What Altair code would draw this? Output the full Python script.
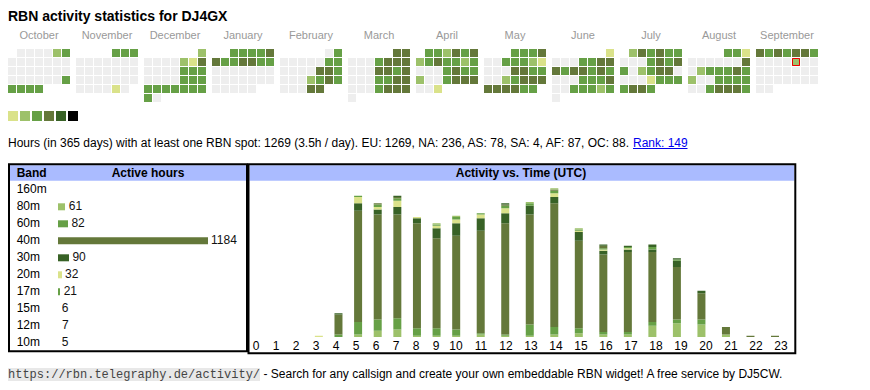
import datetime as dt
import altair as alt
import pandas as pd

# ---------------- data ----------------
TITLE = "RBN activity statistics for DJ4GX"
MONTHS = ["October", "November", "December", "January", "February", "March",
          "April", "May", "June", "July", "August", "September"]
MONTH_FIRST = ["2024-10-01", "2024-11-01", "2024-12-01", "2025-01-01", "2025-02-01", "2025-03-01",
               "2025-04-01", "2025-05-01", "2025-06-01", "2025-07-01", "2025-08-01", "2025-09-01"]
# daily activity level (0 = none, 1..6 = legend levels), written week by week
DAY_LEVELS = [
    "000023 0000000 0000000 0000003 3333",
    "333 0000000 0000000 0000000 000010",
    "2 0000214 0000333 0000333 3333333 30",
    "33334 4334433 0000000 0000000 00000",
    "03 0000033 0000443 0002343 00044",
    "44 0003444 0004434 0003344 0003444 0",
    "332434 2343323 0003433 2003444 001",
    "3334 0033321 0004433 0023444 444433",
    "1 0003344 4344343 0003334 0033323 0",
    "243433 0003434 3023440 0001333 3443",
    "331 0000004 0233343 2003333 0034443",
    "4343443 0000200 0000000 0000000 00",
]
TODAY = "2025-09-12"
LEGEND_LEVELS = [1, 2, 3, 4, 5, 6]
LEVEL_COLORS = ["#eeeeee", "#dae28a", "#9dc16a", "#66a046", "#64783a", "#386226", "#000000"]

SUMMARY = ("Hours (in 365 days) with at least one RBN spot: 1269 (3.5h / day). "
           "EU: 1269, NA: 236, AS: 78, SA: 4, AF: 87, OC: 88.")
RANK = "Rank: 149"

BANDS = ["160m", "80m", "60m", "40m", "30m", "20m", "17m", "15m", "12m", "10m"]
BAND_HOURS = [0, 61, 82, 1184, 90, 32, 21, 6, 7, 5]
BAND_COLORS = ["#dae28a", "#9dc16a", "#66a046", "#64783a", "#386226",
               "#dae28a", "#66a046", "#64783a", "#386226", "#9dc16a"]

HOURS = [0, 1, 2, 3, 4, 5, 6, 7, 8, 9, 10, 11, 12, 13, 14, 15, 16, 17, 18, 19, 20, 21, 22, 23]
ACT_160 = [0, 0, 0, 0, 0, 0, 0, 0, 0, 0, 0, 0, 0, 0, 0, 0, 0, 0, 0, 0, 0, 0, 0, 0]
ACT_80 = [0, 0, 0, 0, 0, 2, 5, 6, 1, 1, 1, 2, 1, 1, 2, 3, 2, 2, 9, 11, 10, 2, 0, 0]
ACT_60 = [0, 0, 0, 0, 2, 10, 9, 9, 6, 6, 5, 1, 1, 9, 6, 4, 2, 2, 3, 3, 4, 0, 0, 0]
ACT_40 = [0, 0, 0, 0, 16, 89, 84, 83, 84, 72, 75, 82, 89, 88, 99, 70, 62, 64, 56, 42, 21, 6, 1, 1]
ACT_30 = [0, 0, 0, 0, 1, 6, 4, 6, 4, 8, 10, 10, 8, 7, 5, 7, 3, 2, 2, 5, 2, 0, 0, 0]
ACT_20 = [0, 0, 0, 1, 0, 5, 2, 5, 1, 2, 3, 3, 4, 0, 3, 1, 1, 1, 0, 0, 0, 0, 0, 0]
ACT_17 = [0, 0, 0, 0, 0, 1, 2, 2, 0, 1, 2, 1, 2, 2, 2, 1, 1, 1, 2, 1, 0, 0, 0, 0]
ACT_15 = [0, 0, 0, 0, 0, 0, 1, 1, 0, 0, 0, 0, 1, 0, 1, 0, 2, 0, 0, 0, 0, 0, 0, 0]
ACT_12 = [0, 0, 0, 0, 0, 0, 0, 1, 0, 0, 0, 0, 1, 0, 0, 0, 1, 1, 2, 1, 0, 0, 0, 0]
ACT_10 = [0, 0, 0, 0, 0, 0, 0, 0, 0, 1, 1, 0, 0, 1, 1, 1, 0, 0, 0, 0, 0, 0, 0, 0]
ACTIVITY = [ACT_160, ACT_80, ACT_60, ACT_40, ACT_30, ACT_20, ACT_17, ACT_15, ACT_12, ACT_10]

TABLE_HEAD = ["Band", "Active hours"]
CHART_HEAD = "Activity vs. Time (UTC)"
FOOT_URL = "https://rbn.telegraphy.de/activity/"
FOOT_TEXT = "- Search for any callsign and create your own embeddable RBN widget! A free service by DJ5CW."

# ---------------- build tables ----------------
rows = []
for m, (first, s) in enumerate(zip(MONTH_FIRST, DAY_LEVELS)):
    s = s.replace(" ", "")
    d0 = dt.date.fromisoformat(first)
    for i, ch in enumerate(s):
        d = d0 + dt.timedelta(days=i)
        rows.append({"m": m, "col": d.weekday(), "row": (d0.weekday() + i) // 7,
                     "level": int(ch), "date": d.isoformat()})
cal_df = pd.DataFrame(rows)
months_df = pd.DataFrame({"m": list(range(len(MONTHS))), "name": MONTHS})
legend_df = pd.DataFrame({"level": LEGEND_LEVELS})
band_df = pd.DataFrame({"band": BANDS, "hours": BAND_HOURS})
act_rows = []
for b, (band, vals) in enumerate(zip(BANDS, ACTIVITY)):
    for h, v in zip(HOURS, vals):
        act_rows.append({"band": band, "bidx": b, "hour": h, "hours": v})
act_df = pd.DataFrame(act_rows)
hours_df = pd.DataFrame({"hour": HOURS})

# ---------------- layout ----------------
W, H = 854, 374
FONT = "Liberation Sans"
MONO = "Liberation Mono"
IX = alt.Scale(domain=[0, W], range=[0, W], nice=False, zero=False)
IY = alt.Scale(domain=[0, H], range=[0, H], nice=False, zero=False)
one = pd.DataFrame({"k": [0]})


def text(t, x, y, size=11, bold=False, color="#000000", align="left", font=FONT):
    return alt.Chart(pd.DataFrame({"t": [t]})).mark_text(
        align=align, baseline="alphabetic", fontSize=size,
        fontWeight="bold" if bold else "normal", color=color, font=font
    ).encode(x=alt.value(x), y=alt.value(y), text="t:N")


def box(x, x2, y, y2, **kw):
    return alt.Chart(one).mark_rect(**kw).encode(
        x=alt.value(x), x2=alt.value(x2), y=alt.value(y), y2=alt.value(y2))


level_color = alt.Color("level:O", scale=alt.Scale(domain=[0, 1, 2, 3, 4, 5, 6], range=LEVEL_COLORS),
                        legend=None)

title = text(TITLE, 0, 13, size=14, bold=True)

month_labels = alt.Chart(months_df).transform_calculate(
    mx="68 * datum.m + 31"
).mark_text(align="center", baseline="alphabetic", fontSize=11, color="#999999", font=FONT).encode(
    x=alt.X("mx:Q", scale=IX, axis=None), y=alt.value(30.5), text="name:N")

cells = alt.Chart(cal_df).transform_calculate(
    cx="68 * datum.m + 9 * datum.col", cx2="68 * datum.m + 9 * datum.col + 8",
    cy="41 + 9 * datum.row", cy2="41 + 9 * datum.row + 8"
).mark_rect().encode(
    x=alt.X("cx:Q", scale=IX, axis=None), x2="cx2:Q",
    y=alt.Y("cy:Q", scale=IY, axis=None), y2="cy2:Q",
    color=level_color)

today = alt.Chart(cal_df).transform_filter(
    alt.datum.date == TODAY
).transform_calculate(
    cx="68 * datum.m + 9 * datum.col + 0.5", cx2="68 * datum.m + 9 * datum.col + 7.5",
    cy="41.5 + 9 * datum.row", cy2="41 + 9 * datum.row + 7.5"
).mark_rect(stroke="#ee0000", strokeWidth=1, fillOpacity=0).encode(
    x=alt.X("cx:Q", scale=IX, axis=None), x2="cx2:Q",
    y=alt.Y("cy:Q", scale=IY, axis=None), y2="cy2:Q")

legend = alt.Chart(legend_df).transform_calculate(
    lx="12 * (datum.level - 1)", lx2="12 * (datum.level - 1) + 10"
).mark_rect().encode(
    x=alt.X("lx:Q", scale=IX, axis=None), x2="lx2:Q",
    y=alt.value(103), y2=alt.value(113), color=level_color)

summary = text(SUMMARY, 0, 138.5, size=12)
rank = text(RANK, 625, 138.5, size=12, color="#0000ee")
rank_line = alt.Chart(one).mark_rule(color="#0000ee", strokeWidth=1).encode(
    x=alt.value(625), x2=alt.value(679.5), y=alt.value(140.5))

# table panel
left_head = box(2, 238, 157.3, 172.7, color="#aabbff")
left_border = box(1, 239, 156.3, 343.3, fillOpacity=0, stroke="#000000", strokeWidth=2)
right_head = box(241.5, 786.3, 157.3, 172.7, color="#aabbff")
right_border = box(240.5, 787.3, 156.3, 345.3, fillOpacity=0, stroke="#000000", strokeWidth=2)
head_band = text(TABLE_HEAD[0], 8.7, 168.7, size=12, bold=True)
head_active = text(TABLE_HEAD[1], 140, 168.7, size=12, bold=True, align="center")
head_chart = text(CHART_HEAD, 513, 168.7, size=12, bold=True, align="center")

band_y = alt.Y("band:N", scale=alt.Scale(domain=BANDS, range=[173.3, 343.3], paddingInner=0, paddingOuter=0),
               axis=None)
band_color = alt.Color("band:N", scale=alt.Scale(domain=BANDS, range=BAND_COLORS), legend=None)
band_x = alt.X("hours:Q", scale=alt.Scale(domain=[0, 1184], range=[50, 200], nice=False), axis=None)

band_names = alt.Chart(band_df).mark_text(
    align="left", baseline="alphabetic", dy=3.5, fontSize=12, font=FONT, color="#000000"
).encode(x=alt.value(8.7), y=band_y, text="band:N")
# the table draws whole-pixel bar widths (rounded down)
band_bars = alt.Chart(band_df).transform_calculate(
    px="floor(datum.hours * 150 / 1184)"
).mark_bar(size=7).encode(
    x=alt.X("px:Q", scale=alt.Scale(domain=[0, 150], range=[50, 200], nice=False), axis=None),
    y=band_y, color=band_color)
band_vals = alt.Chart(band_df).transform_filter(alt.datum.hours > 0).mark_text(
    align="left", baseline="alphabetic", dx=3, dy=3.5, fontSize=12, font=FONT, color="#111111"
).encode(x=band_x, y=band_y, text="hours:Q")

# activity vs time
hx_expr = "datum.hour < 10 ? 20 * datum.hour : 200 + 25 * (datum.hour - 10)"
hx = alt.X("hx:Q", scale=alt.Scale(domain=[0, 525], range=[247, 772], nice=False, zero=False), axis=None)
act_bars = alt.Chart(act_df).transform_calculate(hx=hx_expr).mark_bar(size=8).encode(
    x=hx,
    y=alt.Y("hours:Q", stack="zero", scale=alt.Scale(domain=[0, 120], range=[329, 179], nice=False),
            axis=None),
    color=band_color,
    order=alt.Order("bidx:Q", sort="ascending"))
hour_labels = alt.Chart(hours_df).transform_calculate(hx=hx_expr).mark_text(
    align="center", baseline="alphabetic", dx=1, fontSize=12, font=FONT, color="#000000"
).encode(x=hx, y=alt.value(342), text="hour:N")

# footer
foot_bg = box(0, 252, 360, 373, color="#e8e8e8")
foot_url = text(FOOT_URL, 0, 370, size=12, color="#444444", font=MONO)
foot_text = text(FOOT_TEXT, 255.5, 370, size=12)

chart = alt.layer(
    title, month_labels, cells, today, legend, summary, rank, rank_line,
    left_head, right_head, head_band, head_active, head_chart,
    band_names, band_bars, band_vals, act_bars, hour_labels,
    left_border, right_border, foot_bg, foot_url, foot_text
).resolve_scale(
    x="independent", y="independent", color="independent"
).properties(
    width=W, height=H, padding=0, autosize="none"
).configure_view(strokeWidth=0)

chart.save("out.html", embed_options={"renderer": "svg", "actions": False})
